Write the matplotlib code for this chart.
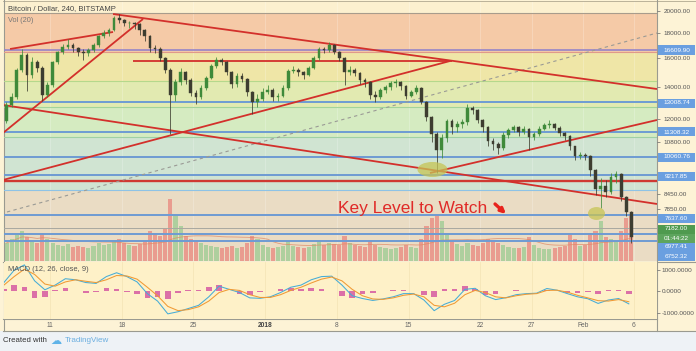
import numpy as np
import pandas as pd
import matplotlib
matplotlib.use('Agg')
import matplotlib.pyplot as plt
from matplotlib.patches import Rectangle
from matplotlib.path import Path
from matplotlib.transforms import Affine2D
import matplotlib.ticker as mticker

# ---------------- data ----------------
open0 = 11900
close = [12836, 13330, 15142, 16252, 14788, 15720, 15290, 13456, 14106, 15720,
         16480, 16870, 17036, 16790, 16480, 16400, 16640, 17036, 17770, 18030,
         18286, 19360, 19168, 18900, 18900, 18810, 18286, 17770, 16790, 16720,
         16020, 15142, 13456, 14300, 15000, 14443, 13580, 13330, 13910, 14580,
         15430, 15873, 15720, 15000, 14170, 14720, 14510, 13650, 13020, 13210,
         13650, 13778, 13330, 13390, 13910, 15070, 15142, 15000, 14788, 15290,
         16020, 16720, 16640, 17036, 16480, 16020, 15000, 15142, 14930, 14443,
         14300, 13456, 13330, 13778, 13970, 14240, 14300, 14040, 13390, 13650,
         13910, 13020, 12130, 11195, 10381, 10980, 11900, 11570, 11735, 11850,
         12655, 12536, 11959, 11570, 10830, 10680, 10480, 11142, 11408, 11570,
         11300, 11460, 11035, 11195, 11460, 11680, 11735, 11515, 11250, 11090,
         10580, 10090, 10139, 10090, 9447, 8640, 8760, 8515, 9140, 9270,
         8300, 7750, 6900]
high = [13000, 13600, 15300, 16700, 16400, 16100, 15900, 15400, 14300, 15800,
        16600, 17100, 17500, 17200, 16900, 16700, 16800, 17200, 17900, 18300,
        18500, 19500, 19700, 19300, 19100, 19000, 18900, 18400, 17900, 17000,
        16900, 16100, 15300, 14500, 15300, 15100, 14600, 13800, 14100, 14700,
        15600, 16100, 16000, 15800, 15100, 14900, 14900, 14600, 13700, 13500,
        13900, 14100, 13900, 13600, 14100, 15200, 15400, 15300, 15100, 15400,
        16200, 16900, 16900, 17300, 17100, 16600, 16100, 15400, 15300, 15000,
        14600, 14400, 13700, 13900, 14100, 14400, 14500, 14400, 14100, 13800,
        14100, 14000, 13100, 12200, 11300, 11200, 12000, 12000, 11900, 12000,
        12900, 12800, 12600, 12000, 11600, 11000, 10800, 11300, 11500, 11700,
        11600, 11600, 11500, 11300, 11600, 11800, 11950, 11800, 11600, 11300,
        11150, 10600, 10300, 10250, 10150, 9500, 9100, 9000, 9300, 9400,
        9300, 8350, 7800]
low = [11800, 12700, 13200, 15000, 13700, 14600, 15000, 13100, 13300, 14000,
       15600, 16300, 16700, 16500, 16200, 15900, 16200, 16500, 16900, 17600,
       17800, 18200, 18900, 18600, 18500, 18400, 17900, 17400, 16500, 16400,
       15800, 14900, 11200, 13100, 14100, 14200, 13400, 12900, 13200, 13800,
       14500, 15300, 15500, 14800, 13900, 14000, 14300, 13400, 12300, 12700,
       13100, 13500, 13100, 13100, 13300, 13800, 14900, 14700, 14500, 14700,
       15200, 15900, 16400, 16500, 16300, 15800, 14100, 14800, 14700, 14200,
       14000, 13200, 13000, 13200, 13600, 13800, 14000, 13800, 13200, 13300,
       13500, 12900, 11900, 10800, 9300, 10000, 10800, 11200, 11300, 11500,
       11700, 12300, 11800, 11300, 10600, 10400, 10200, 10400, 11000, 11300,
       11100, 11200, 10400, 10900, 11100, 11400, 11500, 11400, 11100, 10900,
       10400, 9900, 9950, 9900, 9200, 8400, 7900, 8300, 8450, 8900,
       8150, 7600, 6700]
volume = [18, 22, 26, 30, 24, 20, 18, 28, 22, 18,
          16, 15, 17, 14, 15, 14, 13, 15, 18, 16, 17,
          20, 22, 18, 16, 15, 17, 20,
          30, 28, 25, 32,
          62, 45, 35,
          25, 22, 20, 18, 16, 15,
          14, 13, 14, 15, 13, 14, 18,
          25, 22, 16,
          14, 13, 14, 15, 20,
          15, 14, 13, 14, 17,
          20, 16, 18, 17, 16,
          25, 18, 16, 15, 14,
          20, 16, 14, 13, 12, 13, 14, 16, 14, 13,
          22, 35, 43, 45, 40, 28,
          20, 17, 15, 18, 16, 15, 18,
          22, 20, 18, 16, 14, 13,
          13, 14, 24, 16, 13, 12,
          12, 13, 14, 15, 26,
          22, 15, 16, 28, 30, 40,
          24, 22, 20, 30, 43, 47]

macd = [420, 1000, 1250, 500, 80, 300, 600, 550, 420, 380,
        700, 880, 700, 450, -100, -450, -1050, -950, -800, -650,
        -250, 250, 100, -50, -300, -320, -250, -50, 200, 300,
        550, 700, 720, 300, -200, -330, -420, -350, -250, -100,
        -100, -400, -900, -600, -420, 100, 150, -200, -380, -290,
        -150, -100, -80, 140, 60, -100, -250, -340, -560, -400,
        -330, -580]
signal = [300, 700, 1050, 800, 350, 250, 450, 550, 480, 420,
          550, 750, 730, 580, 200, -200, -700, -900, -850, -720,
          -450, -50, 100, 50, -150, -280, -280, -150, 50, 200,
          400, 580, 680, 500, 100, -200, -350, -370, -300, -180,
          -120, -250, -650, -720, -550, -150, 50, -50, -250, -300,
          -200, -130, -100, 50, 60, -30, -180, -300, -430, -450,
          -380, -480]

# Horizontal levels (price)
blue_levels = [13008.74, 11308.32, 10060.76, 9217.85, 7637.60, 6977.41, 6752.32]
purple_level = 16609.90
red_level = 8970
current_level = 7182.00
fib_levels = [19812, 16484, 14376, 12716, 11038, 8597]
fib_line_colors = ['#a89c8c', '#e09a8a', '#b5d88c', '#a3d39a', '#9fd0a4', '#8ec3e6']
band_colors = ['#fcf0cf', '#f5caa7', '#efe6a7', '#e2eab1', '#d5ebc1', '#d0e4d2', '#eadcc4']

# trend lines: (day0, price0, day1, price1), days since 2017-12-11
trend_lines = [(-3.90, 16718, 6.15, 18114),
               (-4.59, 11249, 9.08, 19259),
               (6.15, 19719, 59.25, 13842),
               (8.10, 15797, 39.24, 15797),
               (-4.59, 9013, 39.04, 15797),
               (-4.59, 12836, 59.25, 8048),
               (37.09, 9314, 59.25, 11960)]
dashed_line = (-4.2, 7750, 59.25, 18028)
ellipses = [(37.29, 9493), (53.29, 7714)]

price_ticks = [20000, 18000, 16000, 14000, 12000, 10800, 8450, 7850]
time_ticks = [0, 7, 14, 21, 28, 35, 42, 47, 52, 57]
time_labels = ['11', '18', '25', '2018', '8', '15', '22', '27', 'Feb', '6']

right_labels = [('16609.90', '#6a9fe0', 50), ('13008.74', '#6a9fe0', 103),
                ('11308.32', '#6a9fe0', 132), ('10060.76', '#6a9fe0', 157),
                ('9217.85', '#6a9fe0', 176), ('7637.60', '#6a9fe0', 218),
                ('7182.00', '#4f9a4f', 229), ('01:44:22', '#5ea55e', 238),
                ('6977.41', '#6a9fe0', 247), ('6752.32', '#6a9fe0', 256)]

# ---------------- figure ----------------
W, H = 696, 351
fig = plt.figure(figsize=(W / 100, H / 100), dpi=100)
fig.patch.set_facecolor('#fdf3d6')
FONT = ['Liberation Sans', 'DejaVu Sans']
plt.rcParams['font.family'] = FONT


def rect(x0, y0, x1, y1):
    return [x0 / W, 1 - y1 / H, (x1 - x0) / W, (y1 - y0) / H]


ref = pd.Timestamp('2017-12-11')
dates = pd.date_range('2017-12-06 12:00', periods=len(close), freq='12h')
t = ((dates - ref) / pd.Timedelta(days=1)).to_numpy() + 0.25
mdates = pd.date_range('2017-12-06 12:00', periods=len(macd), freq='D')
tm = ((mdates - ref) / pd.Timedelta(days=1)).to_numpy()

XL = (-4.49, 59.25)
YL = (6150, 20966)
PR = rect(4, 1, 657, 261)

# background bands axis
ax_bg = fig.add_axes(PR, zorder=0)
ax_bg.set_yscale('log')
ax_bg.set_xlim(*XL)
ax_bg.set_ylim(*YL)
bounds = [YL[1]] + fib_levels + [YL[0]]
for k in range(len(bounds) - 1):
    ax_bg.axhspan(bounds[k + 1], bounds[k], color=band_colors[k], lw=0)
for tt in time_ticks:
    ax_bg.axvline(tt, color='#ffffff', alpha=0.25, lw=0.6)
ax_bg.axis('off')

# volume axis
ax_v = fig.add_axes(PR, zorder=1)
ax_v.patch.set_visible(False)
ax_v.set_xlim(*XL)
ax_v.set_ylim(0, 260)
o = np.array([open0] + close[:-1], dtype=float)
c = np.array(close, dtype=float)
up = c >= o
vcol = np.where(up, '#9fcc95', '#e98c82')
ax_v.bar(t, volume, width=0.4, color=vcol, alpha=0.8, lw=0)
vma = pd.Series(volume).rolling(20, min_periods=1).mean()
ax_v.plot(t, vma, color='#e08a66', lw=0.6, alpha=0.8)
ax_v.axis('off')

# main price axis
ax = fig.add_axes(PR, zorder=2)
ax.patch.set_visible(False)
ax.set_yscale('log')
ax.set_xlim(*XL)
ax.set_ylim(*YL)
for lv, lc in zip(fib_levels, fib_line_colors):
    ax.axhline(lv, color=lc, lw=0.8)
ax.axhline(current_level, color='#a8a8a0', lw=0.7)
for lv in blue_levels:
    ax.axhline(lv, color='#6e9bd3', lw=1.4)
ax.axhline(purple_level, color='#9585c8', lw=1.2)
ax.axhline(red_level, color='#cf3a32', lw=1.7)

ax.plot([dashed_line[0], dashed_line[2]], [dashed_line[1], dashed_line[3]],
        color='#9a9a95', lw=0.8, ls=(0, (3, 3)))
for (a0, p0, a1, p1) in trend_lines:
    ax.plot([a0, a1], [p0, p1], color='#d3302b', lw=1.3, solid_capstyle='butt')

UP, DN = '#3f8a3a', '#3d3d30'
ccol = np.where(up, UP, DN)
ax.vlines(t, low, high, colors=ccol, lw=0.55, zorder=5)
ax.bar(t, np.maximum(np.abs(c - o), 1), bottom=np.minimum(o, c), width=0.27,
       color=ccol, edgecolor=ccol, lw=0.3, zorder=6)

ell1 = Path.unit_circle().transformed(Affine2D().scale(1.0, 0.5))
ell2 = Path.unit_circle().transformed(Affine2D().scale(1.0, 0.76))
ax.scatter([ellipses[0][0]], [ellipses[0][1]], marker=ell1, s=470,
           color='#c6c455', alpha=0.75, lw=0, zorder=7)
ax.scatter([ellipses[1][0]], [ellipses[1][1]], marker=ell2, s=150,
           color='#c6c455', alpha=0.75, lw=0, zorder=7)

ax.text(28.11, 7714, 'Key Level to Watch', color='#e02a28', fontsize=12.5,
        ha='left', va='baseline', zorder=8)
ax.annotate('', xy=(44.51, 7677), xytext=(43.44, 8048),
            arrowprops=dict(arrowstyle='-|>', color='#e8231c', lw=2.4,
                            mutation_scale=7, shrinkA=0, shrinkB=0), zorder=8)

ax.yaxis.tick_right()
ax.yaxis.set_major_locator(mticker.FixedLocator(price_ticks))
ax.yaxis.set_major_formatter(mticker.FuncFormatter(lambda v, p: f'{v:.2f}'))
ax.yaxis.set_minor_locator(mticker.NullLocator())
ax.yaxis.set_minor_formatter(mticker.NullFormatter())
ax.tick_params(axis='y', labelsize=4.6, colors='#666666', length=2.5,
               width=0.5, pad=2)
ax.tick_params(axis='y', labelcolor='#555555')
ax.set_xticks([])
for s in ax.spines.values():
    s.set_visible(False)

# MACD pane
ax_m = fig.add_axes(rect(4, 262, 657, 318.5), zorder=2)
ax_m.set_facecolor('#fef1c8')
ax_m.set_xlim(*XL)
ax_m.set_ylim(-1268, 1385)
hist = np.array(macd) - np.array(signal)
ax_m.bar(tm, hist, width=0.55, color='#d862a4', lw=0, alpha=0.9)
ax_m.plot(tm, macd, color='#46acd6', lw=0.75)
ax_m.plot(tm, signal, color='#f09a34', lw=0.75)
for tt in time_ticks:
    ax_m.axvline(tt, color='#f3e3b5', lw=0.5, zorder=0)
ax_m.yaxis.tick_right()
ax_m.set_yticks([1000, 0, -1000])
ax_m.set_yticklabels(['1000.0000', '0.0000', '-1000.0000'])
ax_m.tick_params(axis='y', labelsize=4.6, colors='#666666', length=2.5,
                 width=0.5, pad=1)
ax_m.tick_params(axis='y', labelcolor='#555555')
ax_m.set_xticks(time_ticks)
ax_m.set_xticklabels(time_labels)
ax_m.tick_params(axis='x', labelsize=4.8, colors='#666666', length=0, pad=2.5)
for lbl in ax_m.get_xticklabels():
    if lbl.get_text() == '2018':
        lbl.set_fontweight('bold')
        lbl.set_color('#444444')
for s in ax_m.spines.values():
    s.set_visible(False)
ax_m.text(0.006, 0.86, 'MACD (12, 26, close, 9)', transform=ax_m.transAxes,
          fontsize=5.4, color='#555555', ha='left', va='center')


# frame lines
def hline(y, x0, x1, color='#9a9a90', lw=0.8):
    fig.add_artist(plt.Line2D([x0 / W, x1 / W], [1 - y / H, 1 - y / H],
                              color=color, lw=lw))


def vline(x, y0, y1, color='#9a9a90', lw=0.8):
    fig.add_artist(plt.Line2D([x / W, x / W], [1 - y0 / H, 1 - y1 / H],
                              color=color, lw=lw))


hline(0.5, 3, 696, '#b0a890', 0.6)
hline(261.5, 3, 696)
hline(318.7, 3, 657)
hline(330.5, 3, 696)
vline(3.5, 0, 331)
vline(657.3, 0, 331)

# footer
fig.add_artist(Rectangle((0, 0), 1, 20 / H, transform=fig.transFigure,
                         facecolor='#eef2f6', edgecolor='none'))
fig.text(3 / W, 1 - 341 / H, 'Created with', fontsize=5.6, color='#333333',
         ha='left', va='center')
fig.text(50 / W, 1 - 340.5 / H, '\u2601', fontsize=8, color='#5fb3e8',
         ha='left', va='center', family=['DejaVu Sans'])
fig.text(65 / W, 1 - 341 / H, 'TradingView', fontsize=5.8, color='#6aaee0',
         ha='left', va='center')

# titles
fig.text(8 / W, 1 - 9 / H, 'Bitcoin / Dollar, 240, BITSTAMP', fontsize=5.5,
         color='#444444', ha='left', va='center')
fig.text(8 / W, 1 - 20 / H, 'Vol (20)', fontsize=5.3, color='#777777',
         ha='left', va='center')

# right price labels
for txt, col, yp in right_labels:
    fig.add_artist(Rectangle((658 / W, 1 - (yp + 4.5) / H), 37 / W, 9 / H,
                             transform=fig.transFigure, facecolor=col,
                             edgecolor='none', zorder=10))
    fig.text(676.5 / W, 1 - yp / H, txt, fontsize=4.6, color='white',
             ha='center', va='center', zorder=11)

fig.savefig('out.png', dpi=100, facecolor=fig.get_facecolor())
